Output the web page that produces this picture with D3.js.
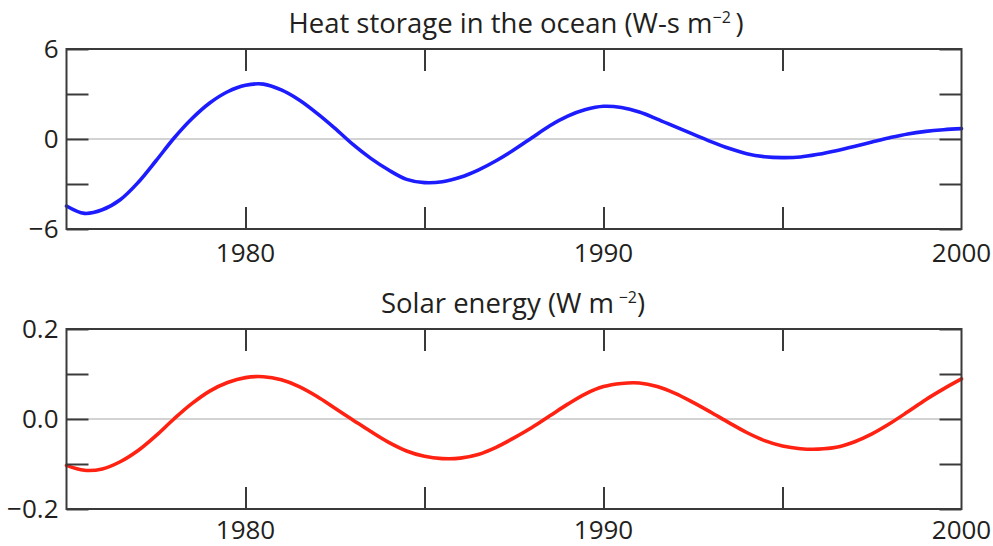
<!DOCTYPE html>
<html>
<head>
<meta charset="utf-8">
<script src="https://cdn.jsdelivr.net/npm/d3@7"></script>
<style>
  html, body { margin: 0; padding: 0; background: #fff; overflow: hidden; }
  svg text { font-family: "Open Sans", "Noto Sans", sans-serif; fill: #231f20; }
</style>
</head>
<body>
<svg id="chart" width="993" height="546"></svg>
<script>
// ---- Data (half-year samples) ----
const years = [1975, 1975.5, 1976, 1976.5, 1977, 1977.5, 1978, 1978.5, 1979, 1979.5,
               1980, 1980.5, 1981, 1981.5, 1982, 1982.5, 1983, 1983.5, 1984, 1984.5,
               1985, 1985.5, 1986, 1986.5, 1987, 1987.5, 1988, 1988.5, 1989, 1989.5,
               1990, 1990.5, 1991, 1991.5, 1992, 1992.5, 1993, 1993.5, 1994, 1994.5,
               1995, 1995.5, 1996, 1996.5, 1997, 1997.5, 1998, 1998.5, 1999, 1999.5,
               2000];

const heatValues = [-4.47, -4.96, -4.72, -4.05, -2.9, -1.45, 0.05, 1.35, 2.4, 3.15,
                    3.58, 3.66, 3.27, 2.6, 1.71, 0.71, -0.36, -1.29, -2.07, -2.69,
                    -2.91, -2.85, -2.55, -2.07, -1.45, -0.72, 0.08, 0.88, 1.52, 1.96,
                    2.18, 2.1, 1.8, 1.33, 0.82, 0.32, -0.17, -0.62, -0.98, -1.18,
                    -1.24, -1.2, -1.02, -0.78, -0.5, -0.2, 0.09, 0.34, 0.51, 0.62,
                    0.69];

const solarValues = [-0.103, -0.114, -0.111, -0.095, -0.070, -0.037, 0.000, 0.034, 0.062, 0.081,
                     0.092, 0.094, 0.087, 0.072, 0.050, 0.024, -0.002, -0.028, -0.052, -0.071,
                     -0.083, -0.088, -0.087, -0.079, -0.063, -0.042, -0.019, 0.007, 0.033, 0.056,
                     0.072, 0.079, 0.080, 0.072, 0.057, 0.037, 0.015, -0.008, -0.030, -0.048,
                     -0.060, -0.066, -0.067, -0.063, -0.051, -0.033, -0.010, 0.016, 0.043, 0.067,
                     0.089];

const xTickValues = [1980, 1985, 1990, 1995];
const xTickLabels = [1980, 1990, 2000];
const heatYTicks  = [-6, -3, 0, 3, 6];
const heatYLabels = [-6, 0, 6];
const solarYTicks = [-0.2, -0.1, 0, 0.1, 0.2];
const solarYLabels = [-0.2, 0, 0.2];

const titles = ["Heat storage in the ocean", "Solar energy"];
const units  = ["W-s m", "W m\u2009"];

// ---- Layout ----
const svg = d3.select("#chart");
const left = 66.5, right = 961.5;
const panels = [
  { top: 49, bottom: 229, values: heatValues, domain: [-6, 6],
    ticks: heatYTicks, labels: heatYLabels, fmt: d => d < 0 ? "\u2212" + Math.abs(d) : String(d),
    color: "#1c1cff", title: titles[0], unit: units[0], close: "\u2009)", titleY: 33, labY: 262, titleDx: 2 },
  { top: 329, bottom: 509, values: solarValues, domain: [-0.2, 0.2],
    ticks: solarYTicks, labels: solarYLabels, fmt: d => (d < 0 ? "\u2212" : "") + Math.abs(d).toFixed(1),
    color: "#ff2212", title: titles[1], unit: units[1], close: ")", titleY: 313, labY: 539, titleDx: -1 }
];

const x = d3.scaleLinear().domain([1975, 2000]).range([left, right]);
const tickLen = 22;

panels.forEach(p => {
  const y = d3.scaleLinear().domain(p.domain).range([p.bottom, p.top]);
  const g = svg.append("g");

  // zero line
  g.append("line")
    .attr("x1", x(1975)).attr("x2", x(2000))
    .attr("y1", y(0)).attr("y2", y(0))
    .attr("stroke", "#a8a8a8").attr("stroke-width", 1.2);

  // data line
  const line = d3.line()
    .x((d, i) => x(years[i]))
    .y(d => y(d))
    .curve(d3.curveCatmullRom.alpha(0.5));
  g.append("path")
    .datum(p.values)
    .attr("d", line)
    .attr("fill", "none")
    .attr("stroke", p.color)
    .attr("stroke-width", 3.6)
    .attr("stroke-linecap", "round");

  // inward ticks on all four sides
  const axStroke = "#3a3a3a";
  const xb = d3.axisBottom(x).tickValues(xTickValues).tickSize(-tickLen).tickFormat("");
  const xt = d3.axisTop(x).tickValues(xTickValues).tickSize(-tickLen).tickFormat("");
  const yl = d3.axisLeft(y).tickValues(p.ticks).tickSize(-tickLen).tickFormat("");
  const yr = d3.axisRight(y).tickValues(p.ticks).tickSize(-tickLen).tickFormat("");
  [[xb, `translate(0,${p.bottom})`], [xt, `translate(0,${p.top})`],
   [yl, `translate(${left},0)`], [yr, `translate(${right},0)`]].forEach(([ax, tr]) => {
    const a = g.append("g").attr("transform", tr).call(ax);
    a.select(".domain").remove();
    a.selectAll(".tick line").attr("stroke", axStroke).attr("stroke-width", 2);
  });

  // frame
  g.append("rect")
    .attr("x", left).attr("y", p.top)
    .attr("width", right - left).attr("height", p.bottom - p.top)
    .attr("fill", "none").attr("stroke", axStroke).attr("stroke-width", 2);

  // x labels
  g.selectAll(".xl").data(xTickLabels).enter().append("text")
    .attr("x", d => x(d)).attr("y", p.labY)
    .attr("text-anchor", "middle").attr("font-size", 26)
    .text(d => d);

  // y labels
  g.selectAll(".yl").data(p.labels).enter().append("text")
    .attr("x", left - 8).attr("y", d => y(d))
    .attr("dy", "0.35em")
    .attr("text-anchor", "end").attr("font-size", 26)
    .text(p.fmt);

  // title
  const t = g.append("text")
    .attr("x", (left + right) / 2 + p.titleDx).attr("y", p.titleY)
    .attr("text-anchor", "middle").attr("font-size", 27.5);
  t.append("tspan").text(p.title + " (" + p.unit);
  t.append("tspan").attr("dy", -10).attr("font-size", 16).text("\u22122");
  t.append("tspan").attr("dy", 10).text(p.close);
});
</script>
</body>
</html>
